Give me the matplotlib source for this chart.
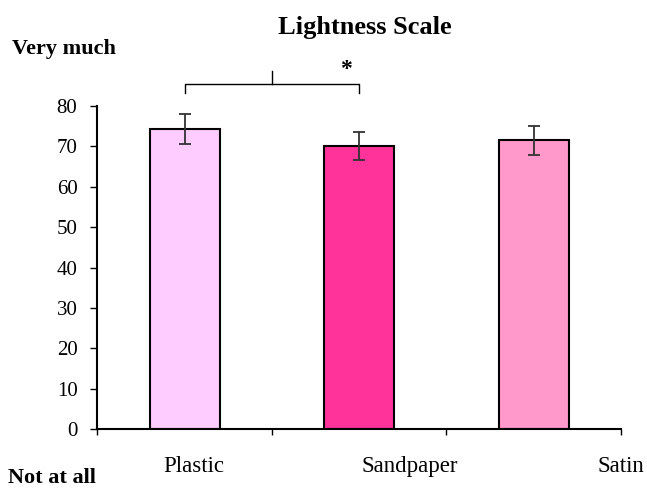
import numpy as np
import matplotlib
matplotlib.use('Agg')
import matplotlib.pyplot as plt

# ── data ────────────────────────────────────────────────────
categories = ['Plastic', 'Sandpaper', 'Satin']
means      = [74.3, 70.0, 71.5]
errors     = [3.75, 3.5, 3.6]
colors     = ['#FFCCFF', '#FF3399', '#FF99CC']
yticks     = [0, 10, 20, 30, 40, 50, 60, 70, 80]

plt.rcParams['font.family'] = ['Liberation Serif', 'DejaVu Serif']

fig = plt.figure(figsize=(6.47, 4.90), dpi=100)
ax = fig.add_axes([0.1504, 0.1239, 0.8094, 0.6602])

x = np.arange(len(categories)) + 0.5
ax.bar(x, means, width=0.4, color=colors, edgecolor='black', linewidth=1.5, zorder=2)
ax.errorbar(x, means, yerr=errors, fmt='none', ecolor='#333333',
            elinewidth=1.3, capsize=4, capthick=1.3, zorder=3)

ax.set_xlim(0, len(categories))
ax.set_ylim(0, 80)
ax.set_yticks(yticks)
ax.set_xticks(np.arange(len(categories) + 1))
ax.set_xticklabels([])
ax.tick_params(axis='y', direction='out', length=4.8, width=1, labelsize=15, pad=9.5)
ax.tick_params(axis='x', direction='out', length=4.5, width=1)
for s in ['top', 'right']:
    ax.spines[s].set_visible(False)
for s in ['left', 'bottom']:
    ax.spines[s].set_linewidth(1.5)

# category labels sit offset to the right, as in the original
label_x = [0.55, 1.788, 3.0]
for lx, name in zip(label_x, categories):
    ax.text(lx, -10.6, name, ha='center', va='baseline', fontsize=16.5, clip_on=False)

# significance bracket between Plastic and Sandpaper
bl, br = x[0], x[1]
bm = (bl + br) / 2
by = 85.3
ax.plot([bl, bl, br, br], [by - 2.1, by, by, by - 2.1], color='black', lw=1, clip_on=False)
ax.plot([bm, bm], [by, by + 3.3], color='black', lw=1, clip_on=False)
ax.text(1.423, 89.0, '*', ha='center', va='center', fontsize=17, fontweight='bold', clip_on=False)

fig.text(0.5634, 0.9306, 'Lightness Scale', ha='center', va='baseline', fontsize=19, fontweight='bold')
fig.text(0.019, 0.889, 'Very much', ha='left', va='baseline', fontsize=16, fontweight='bold')
fig.text(0.013, 0.014, 'Not at all', ha='left', va='baseline', fontsize=16, fontweight='bold')

fig.savefig('out.png', dpi=100, facecolor='white')
